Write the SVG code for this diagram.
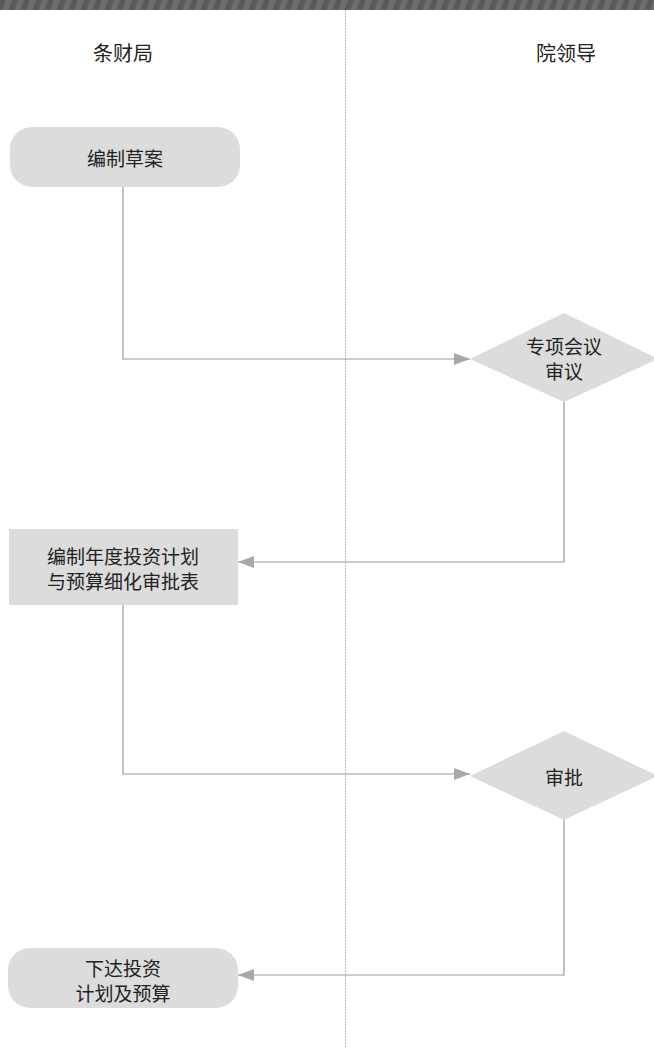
<svg xmlns="http://www.w3.org/2000/svg" width="654" height="1050" viewBox="0 0 654 1050">
<style>
.t{font-family:"Noto Sans CJK SC","Liberation Sans",sans-serif;font-size:19px;fill:#222;text-anchor:middle;dominant-baseline:central}
.h{font-size:20px}
.n{fill:#dcdcdc}
.c{fill:none;stroke:#999;stroke-width:1.2}
</style>
<defs>
<pattern id="st" width="12" height="10" patternUnits="userSpaceOnUse" patternTransform="skewX(-20)">
<rect width="12" height="10" fill="#6e6e6e"/>
<rect width="6" height="10" fill="#5a5a5a"/>
</pattern>
<marker id="a" markerWidth="16" markerHeight="12" refX="16" refY="6" orient="auto" markerUnits="userSpaceOnUse">
<path d="M0,0 L16,6 L0,12 Z" fill="#a8a8a8"/>
</marker>
</defs>
<rect x="0" y="0" width="654" height="10" fill="url(#st)"/>
<line x1="345.5" y1="10" x2="345.5" y2="1048" stroke="#bbb" stroke-width="1" stroke-dasharray="2,1"/>
<g id="header-left"><text class="t h" x="123" y="52">条财局</text></g>
<g id="header-right"><text class="t h" x="566" y="52">院领导</text></g>
<g id="connectors">
<path class="c" d="M123,187 V359 H470" marker-end="url(#a)"/>
<path class="c" d="M564,402 V562 H238" marker-end="url(#a)"/>
<path class="c" d="M123,605 V774 H470" marker-end="url(#a)"/>
<path class="c" d="M564,819 V975 H238" marker-end="url(#a)"/>
</g>
<g id="n1"><rect class="n" x="10" y="127" width="230" height="60" rx="22"/><text class="t" x="125" y="157">编制草案</text></g>
<g id="n2"><polygon class="n" points="564,313 658,359 564,402 470,359"/><text class="t" x="564" y="345">专项会议</text><text class="t" x="564" y="370">审议</text></g>
<g id="n3"><rect class="n" x="9" y="529" width="229" height="76"/><text class="t" x="123" y="555">编制年度投资计划</text><text class="t" x="123" y="580">与预算细化审批表</text></g>
<g id="n4"><polygon class="n" points="564,731 658,776 564,820 470,776"/><text class="t" x="564" y="776">审批</text></g>
<g id="n5"><rect class="n" x="8" y="948" width="230" height="60" rx="22"/><text class="t" x="123" y="967">下达投资</text><text class="t" x="123" y="992">计划及预算</text></g>
</svg>
